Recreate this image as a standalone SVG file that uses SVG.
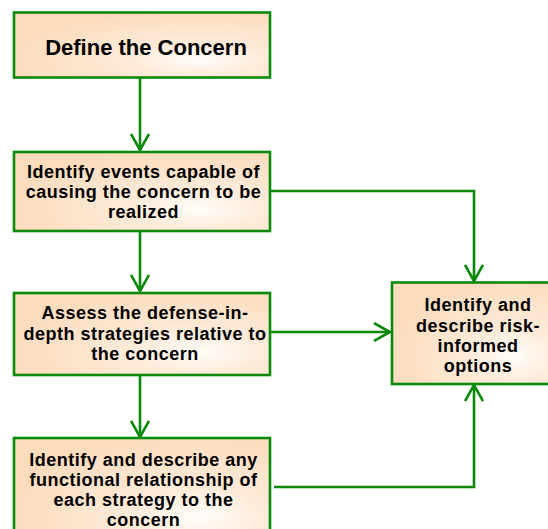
<svg xmlns="http://www.w3.org/2000/svg" width="548" height="529" viewBox="0 0 548 529">
  <defs>
    <radialGradient id="peach" cx="0.72" cy="0.72" r="0.75" fx="0.72" fy="0.72">
      <stop offset="0" stop-color="#FFFDFA"/>
      <stop offset="0.35" stop-color="#FEEBD9"/>
      <stop offset="1" stop-color="#FCDCBD"/>
    </radialGradient>
    <marker id="vee" viewBox="0 0 20 20" refX="17" refY="10" markerWidth="20" markerHeight="20" markerUnits="userSpaceOnUse" orient="auto">
      <path d="M1,1 L17,10 L1,19" fill="none" stroke="#0A8A0A" stroke-width="2.6"/>
    </marker>
    <style>
      .box { fill: url(#peach); stroke: #0A8A0A; stroke-width: 2.6; }
      .lbl { font-family: "Liberation Sans", Arial, sans-serif; font-weight: bold; font-size: 18px; letter-spacing: 0.5px; fill: #000; text-anchor: middle; }
      .big { font-size: 22px; letter-spacing: 0; }
      .wire { fill: none; stroke: #0A8A0A; stroke-width: 2.6; marker-end: url(#vee); }
    </style>
  </defs>

  <g id="connectors">
    <path class="wire" d="M140,78 V150"/>
    <path class="wire" d="M140,232 V291"/>
    <path class="wire" d="M140,376 V437"/>
    <path class="wire" d="M271,191 H474 V281"/>
    <path class="wire" d="M271,332 H390"/>
    <path class="wire" d="M274,487 H474 V385"/>
  </g>

  <g id="define-concern">
    <rect class="box" x="14" y="12.5" width="256" height="65"/>
    <text class="lbl big" x="146" y="55">Define the Concern</text>
  </g>

  <g id="identify-events">
    <rect class="box" x="14" y="152" width="256" height="79"/>
    <text class="lbl" x="143.5" y="177.5">Identify events capable of</text>
    <text class="lbl" x="143.5" y="197.5">causing the concern to be</text>
    <text class="lbl" x="143.5" y="217.5">realized</text>
  </g>

  <g id="assess-strategies">
    <rect class="box" x="14" y="293" width="256" height="82"/>
    <text class="lbl" x="145" y="319">Assess the defense-in-</text>
    <text class="lbl" x="145" y="339.5">depth strategies relative to</text>
    <text class="lbl" x="145" y="360">the concern</text>
  </g>

  <g id="functional-relationship">
    <rect class="box" x="14" y="438" width="256" height="110"/>
    <text class="lbl" x="143.5" y="465.5">Identify and describe any</text>
    <text class="lbl" x="143.5" y="485.5">functional relationship of</text>
    <text class="lbl" x="143.5" y="505.5">each strategy to the</text>
    <text class="lbl" x="143.5" y="525.5">concern</text>
  </g>

  <g id="risk-informed-options">
    <rect class="box" x="392" y="282.5" width="170" height="101.5"/>
    <text class="lbl" x="478" y="311">Identify and</text>
    <text class="lbl" x="478" y="331.5">describe risk-</text>
    <text class="lbl" x="478" y="352">informed</text>
    <text class="lbl" x="478" y="372">options</text>
  </g>
</svg>
